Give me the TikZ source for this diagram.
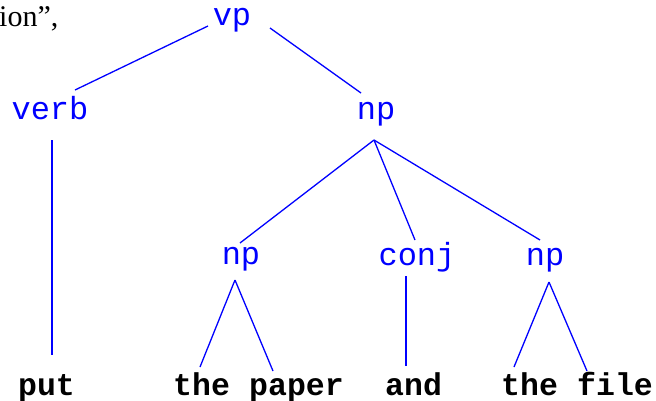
\documentclass[tikz,border=0pt]{standalone}
\usepackage{fontspec}
\setmainfont{Liberation Serif}
\newfontfamily\treefont{Liberation Mono}
\usetikzlibrary{calc}
\definecolor{treeblue}{RGB}{0,0,255}
\tikzset{
  cat/.style={anchor=base, inner sep=0pt, text=treeblue,
    font=\treefont\fontsize{32}{36}\selectfont},
  word/.style={anchor=base west, inner sep=0pt, text=black,
    font=\treefont\bfseries\fontsize{31.5}{36}\selectfont},
  branch/.style={draw=treeblue, line width=1.3pt},
}
\begin{document}
\begin{tikzpicture}[x=1pt, y=-1pt]
  \useasboundingbox (0,0) rectangle (656,400);

  % running text to the left of the tree
  \node[anchor=base west, inner sep=0pt, font=\fontsize{30}{34}\selectfont]
    (prose) at (-1,26) {ion”,};

  % category labels
  \node[cat] (vp)   at (232,25)  {vp};
  \node[cat] (verb) at (50,119)  {verb};
  \node[cat] (np1)  at (376,119) {np};
  \node[cat] (np2)  at (241,264) {np};
  \node[cat] (conj) at (417,265) {conj};
  \node[cat] (np3)  at (545,265) {np};

  % terminal words
  \node[word] (put)   at (18,395)  {put};
  \node[word] (the1)  at (173,395) {the};
  \node[word] (paper) at (249,395) {paper};
  \node[word] (and)   at (385,395) {and};
  \node[word] (the2)  at (501,395) {the};
  \node[word] (file)  at (577,395) {file};

  % branches
  \draw[branch] ($(vp.base)+(-24,1)$) -- ($(verb.base)+(25,-29)$);
  \draw[branch] ($(vp.base)+(38,3)$)  -- ($(np1.base)+(-15,-26)$);
  \draw[branch] ($(verb.base)+(2,21)$) -- ($(put.base west)+(34,-40)$);

  \draw[branch] ($(np1.base)+(-2,21)$) -- ($(np2.base)+(-1,-21)$);
  \draw[branch] ($(np1.base)+(-2,21)$) -- ($(conj.base)+(-2,-25)$);
  \draw[branch] ($(np1.base)+(-2,21)$) -- ($(np3.base)+(-5,-25)$);

  \draw[branch] ($(np2.base)+(-6,16)$) -- ($(the1.base west)+(27,-28)$);
  \draw[branch] ($(np2.base)+(-6,16)$) -- ($(paper.base west)+(24,-24)$);

  \draw[branch] ($(conj.base)+(-11,11)$) -- ($(and.base west)+(21,-29)$);

  \draw[branch] ($(np3.base)+(4,17)$) -- ($(the2.base west)+(13,-28)$);
  \draw[branch] ($(np3.base)+(4,17)$) -- ($(file.base west)+(10,-24)$);
\end{tikzpicture}
\end{document}
